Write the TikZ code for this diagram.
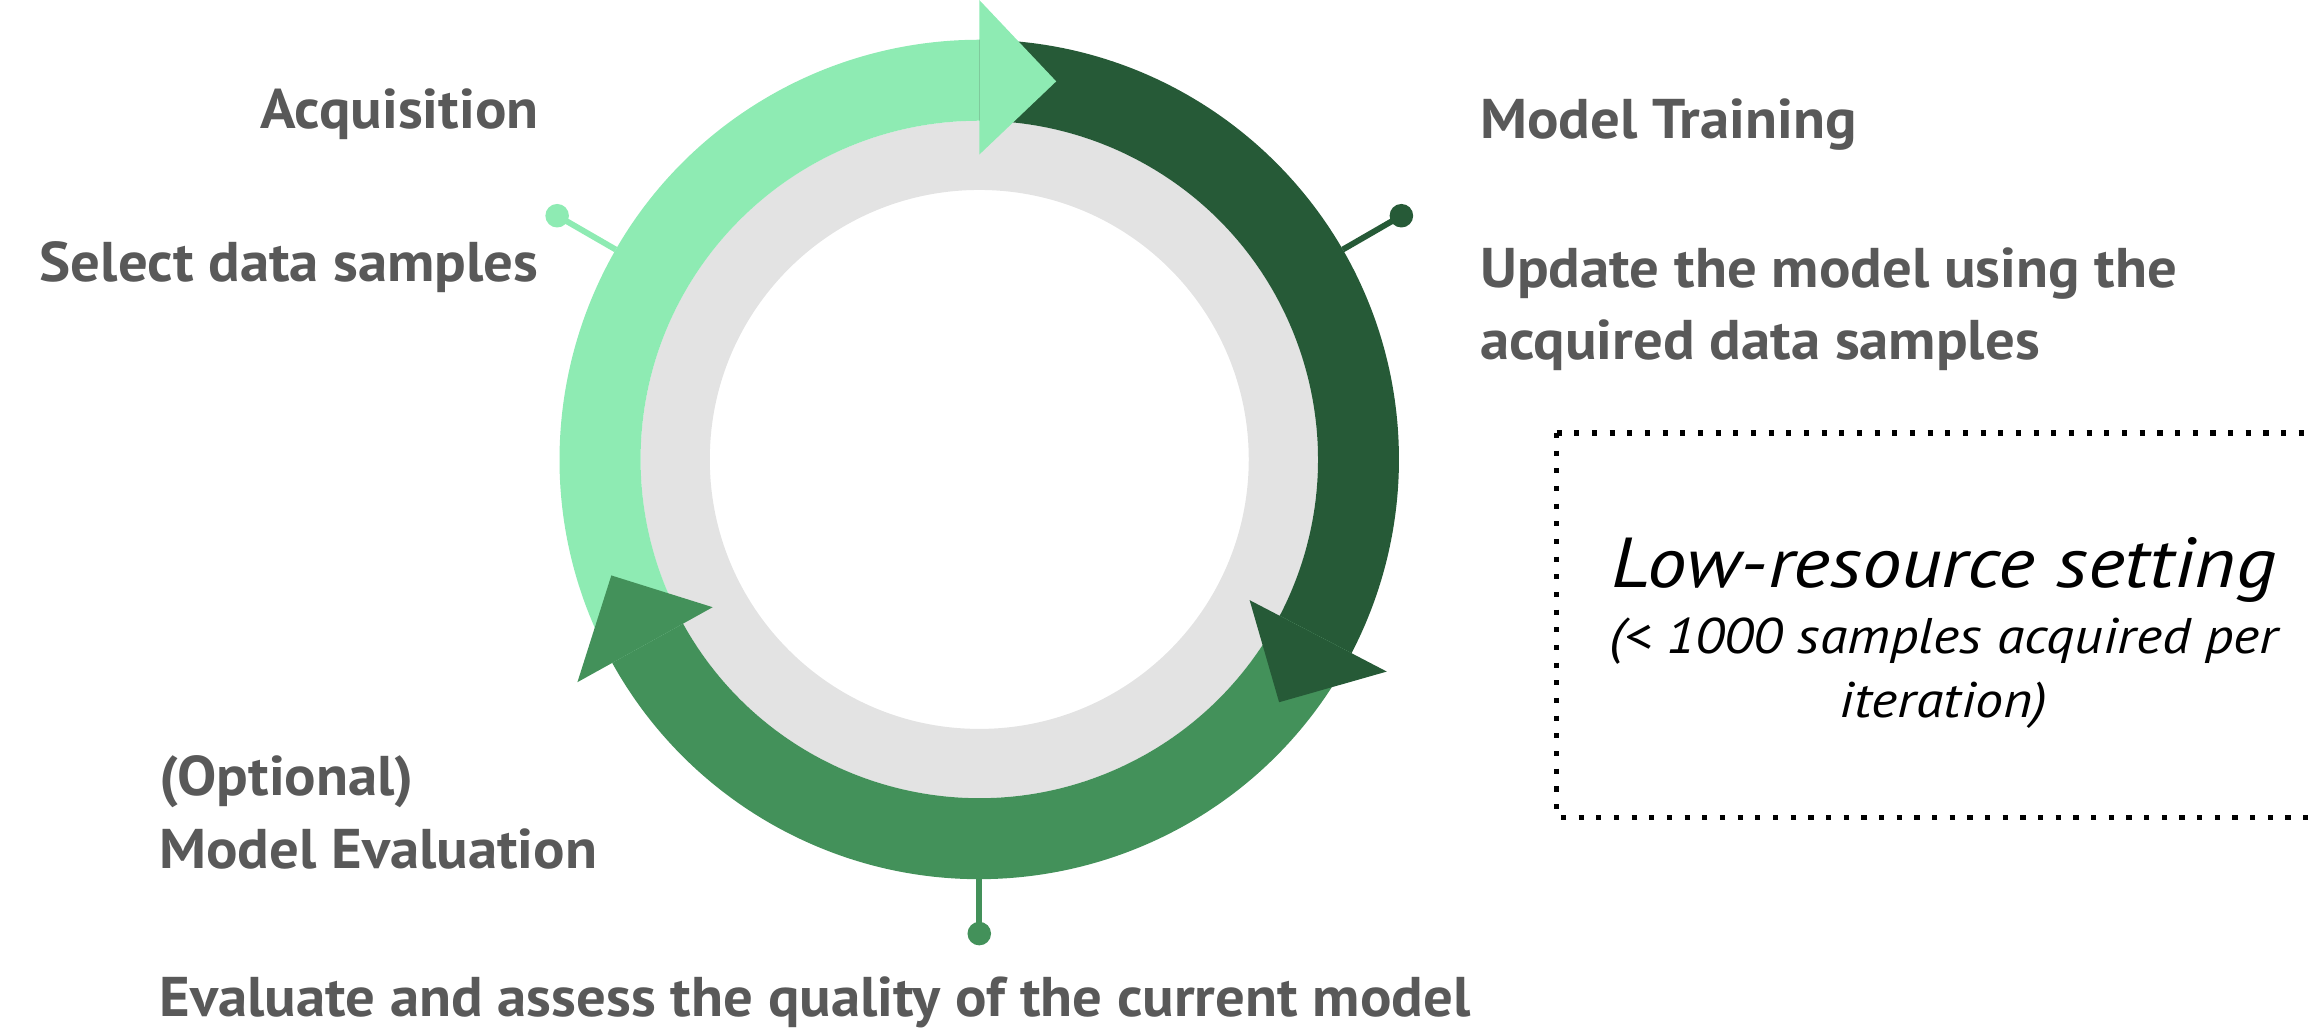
\documentclass[tikz,border=0pt]{standalone}
\usepackage{fontspec}
\setmainfont{PT Sans}[FakeStretch=1.05]
\newfontfamily\notefont{PT Sans}[FakeStretch=1.12]

\definecolor{acqgreen}{HTML}{8EEBB3}
\definecolor{traingreen}{HTML}{265A37}
\definecolor{evalgreen}{HTML}{43915A}
\definecolor{ringgray}{HTML}{E3E3E3}
\definecolor{labelgray}{HTML}{595959}

\tikzset{
	steplabel/.style = {text=labelgray, inner sep=0pt,
		font=\bfseries\fontsize{38}{44}\selectfont},
	notelabel/.style = {inner sep=0pt, font=\notefont\itshape\fontsize{34}{38}\selectfont},
	dotbox/.style = {line width=3.5pt, dash pattern=on 3.5pt off 8.5pt},
}

\begin{document}
\begin{tikzpicture}[x=1pt, y=1pt]
	\useasboundingbox (0,0) rectangle (1568,700);
	\coordinate (C) at (665,388);

	% grey ring behind the cycle
	\fill[ringgray, even odd rule] (C) circle[radius=230] (C) circle[radius=183];

	% the three arcs, then their heads on top
	\foreach \col/\from/\to in {acqgreen/209/90, traingreen/90/-27.5, evalgreen/-27.5/-151}
		\fill[\col] ([shift={(\from:285)}]C) arc[start angle=\from, end angle=\to, radius=285]
			-- ([shift={(\to:230)}]C) arc[start angle=\to, end angle=\from, radius=230] -- cycle;
	\foreach \col/\to in {acqgreen/90, traingreen/-27.5, evalgreen/-151} {
		\pgfmathsetmacro{\tip}{\to-11.5}
		\fill[\col] ([shift={(\to:312)}]C) -- ([shift={(\tip:262)}]C) -- ([shift={(\to:207)}]C) -- cycle;
	}

	% pins
	\foreach \name/\ang/\len/\col in {acq/150/331/acqgreen, train/30/331/traingreen, eval/270/322/evalgreen} {
		\coordinate (\name ring) at ([shift={(\ang:285)}]C);
		\coordinate (\name pin) at ([shift={(\ang:\len)}]C);
		\draw[\col, line width=4pt] (\name ring) -- (\name pin);
		\fill[\col] (\name pin) circle[radius=8];
	}

	% step texts
	\node[steplabel, anchor=base east] (acq) at (366,613) {Acquisition};
	\node[steplabel, anchor=base east] (acqtext) at (366,509) {Select data samples};
	\node[steplabel, anchor=base west] (train) at (1005,606) {Model Training};
	\node[steplabel, anchor=base west] (traintext) at (1005,505) {Update the model using the};
	\node[steplabel, anchor=base west] (traintext2) at (1005,456) {acquired data samples};
	\node[steplabel, anchor=base west] (evalopt) at (108,160) {(Optional)};
	\node[steplabel, anchor=base west] (eval) at (108,110) {Model Evaluation};
	\node[steplabel, anchor=base west] (evaltext) at (108,10) {Evaluate and assess the quality of the current model};

	% setting box
	\draw[dotbox] (1057,406) -- (1057,145) -- (1600,145);
	\draw[dotbox] (1057,406) -- (1600,406);
	\node[notelabel, font=\notefont\itshape\fontsize{48}{52}\selectfont, anchor=base] (lowres) at (1320,301) {Low-resource setting};
	\node[notelabel, anchor=base] (lowres2) at (1320,256) {(< 1000 samples acquired per};
	\node[notelabel, anchor=base] (lowres3) at (1320,213) {iteration)};
\end{tikzpicture}
\end{document}
